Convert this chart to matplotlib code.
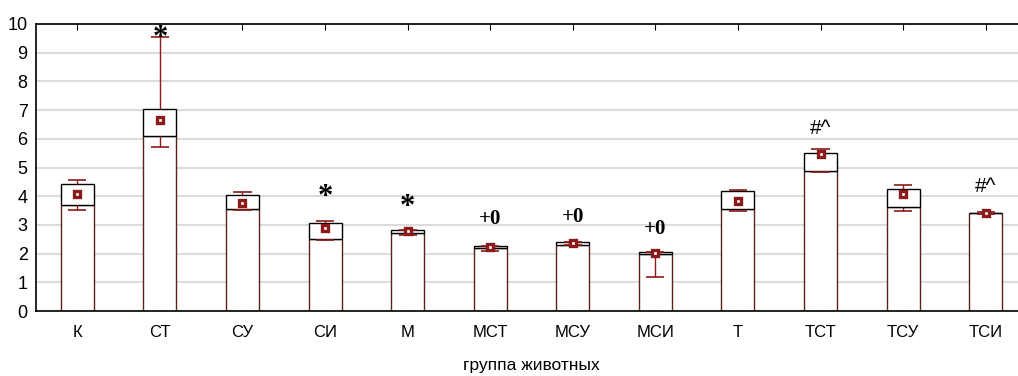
import numpy as np
import matplotlib
matplotlib.use("Agg")
import matplotlib.pyplot as plt

groups = ["К", "СТ", "СУ", "СИ", "М", "МСТ", "МСУ", "МСИ", "Т", "ТСТ", "ТСУ", "ТСИ"]
box_top = [4.42, 7.05, 4.05, 3.06, 2.81, 2.26, 2.39, 2.06, 4.19, 5.49, 4.26, 3.43]
box_low = [3.69, 6.09, 3.57, 2.52, 2.71, 2.20, 2.31, 1.98, 3.54, 4.87, 3.62, 3.40]
means = [4.08, 6.66, 3.76, 2.89, 2.78, 2.23, 2.36, 2.03, 3.85, 5.47, 4.06, 3.42]
whisk_hi = [4.57, 9.54, 4.13, 3.13, 2.81, 2.28, 2.39, 2.06, 4.23, 5.66, 4.40, 3.46]
whisk_lo = [3.53, 5.72, 3.52, 2.47, 2.65, 2.09, 2.31, 1.20, 3.50, 4.83, 3.49, 3.39]

# significance marks: (group index, y, text)
marks = [(1, 9.5, "*"), (3, 3.95, "*"), (4, 3.6, "*"),
         (5, 3.2, "+0"), (6, 3.28, "+0"), (7, 2.84, "+0"),
         (9, 6.35, "#^"), (11, 4.33, "#^")]

plt.rcParams['font.family'] = ['Liberation Sans', 'DejaVu Sans']

fig = plt.figure(figsize=(10.18, 3.76), dpi=100)
ax = fig.add_axes([36 / 1018, 65 / 376, 991 / 1018, 287 / 376])

x = np.arange(len(groups))
red = "#8b1a1a"
w = 0.4

ax.bar(x, box_low, width=w, color="white", edgecolor="#5a2020", linewidth=1, zorder=2)
ax.bar(x, np.array(box_top) - np.array(box_low), bottom=box_low, width=w,
       color="white", edgecolor="black", linewidth=1, zorder=2)

# whiskers outside the box only
ax.vlines(x, box_top, whisk_hi, color=red, lw=1, zorder=3)
ax.vlines(x, whisk_lo, box_low, color=red, lw=1, zorder=3)
ax.hlines(whisk_hi, x - 0.11, x + 0.11, color=red, lw=1.2, zorder=3)
ax.hlines(whisk_lo, x - 0.11, x + 0.11, color=red, lw=1.2, zorder=3)

ax.plot(x, means, "s", ms=4.6, mfc="white", mec=red, mew=2.4, zorder=4)

for i, yv, t in marks:
    if t == "*":
        ax.text(i, yv, t, ha="center", va="center", fontsize=22,
                family="Liberation Serif", fontweight="bold", zorder=5)
    elif t == "+0":
        ax.text(i, yv, t, ha="center", va="center", fontsize=15,
                family="Liberation Serif", fontweight="bold", zorder=5)
    else:
        ax.text(i, yv, t, ha="center", va="center", fontsize=15, zorder=5)

ax.set_xlim(-0.5, 11.5)
ax.set_ylim(0, 10)
ax.set_yticks(range(0, 11))
ax.set_xticks(x)
ax.set_xticklabels(groups)
ax.grid(axis="y", color="#dcdcdc", lw=1.5, zorder=0)
ax.set_axisbelow(True)
ax.tick_params(axis="x", direction="in", top=True, length=4, labelsize=12, pad=10)
ax.tick_params(axis="y", length=0, labelsize=13, pad=6)
for s in ["left", "top", "bottom"]:
    ax.spines[s].set_linewidth(1.2)
ax.spines["right"].set_visible(False)
ax.set_xlabel("группа животных", fontsize=12.5, labelpad=13)

fig.savefig("out.png", dpi=100)
